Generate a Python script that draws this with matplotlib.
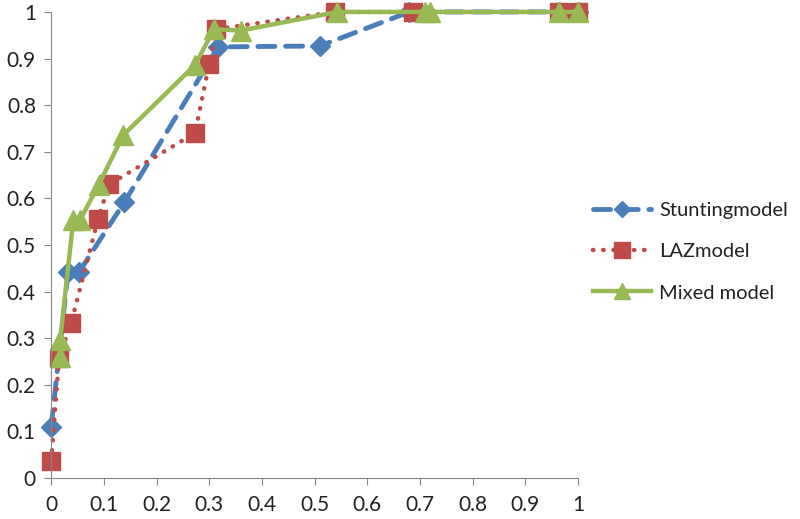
import matplotlib
matplotlib.use("Agg")
import matplotlib.pyplot as plt

stunting_x = [0.0, 0.032, 0.053, 0.139, 0.317, 0.51, 0.68, 0.964, 1.0]
stunting_y = [0.11, 0.442, 0.442, 0.592, 0.925, 0.927, 1.0, 1.0, 1.0]

laz_x = [0.0, 0.015, 0.038, 0.089, 0.11, 0.273, 0.30, 0.313, 0.539, 0.687, 0.964, 1.0]
laz_y = [0.037, 0.258, 0.333, 0.556, 0.63, 0.74, 0.889, 0.963, 1.0, 1.0, 1.0, 1.0]

mixed_x = [0.017, 0.017, 0.042, 0.055, 0.09, 0.137, 0.273, 0.309, 0.36, 0.543, 0.71, 0.72, 0.964, 1.0]
mixed_y = [0.26, 0.296, 0.554, 0.554, 0.629, 0.736, 0.886, 0.963, 0.96, 1.0, 1.0, 1.0, 1.0, 1.0]

ticks = [0, 0.1, 0.2, 0.3, 0.4, 0.5, 0.6, 0.7, 0.8, 0.9, 1]
tick_labels = ["0", "0.1", "0.2", "0.3", "0.4", "0.5", "0.6", "0.7", "0.8", "0.9", "1"]

plt.rcParams['font.family'] = ['Lato', 'DejaVu Sans']

fig = plt.figure(figsize=(8, 5.19), dpi=100)
ax = fig.add_axes([0.064, 0.079, 0.6585, 0.898])

ax.plot(stunting_x, stunting_y, color='#4A7EBB', lw=3.5, dashes=(3.5, 2.2),
        dash_capstyle='round', marker='D', ms=10, label='Stuntingmodel', clip_on=False)
ax.plot(laz_x, laz_y, color='#BE4B48', lw=3.2, linestyle=(0, (0.1, 2.2)),
        dash_capstyle='round', marker='s', ms=13, label='LAZmodel', clip_on=False)
ax.plot(mixed_x, mixed_y, color='#98B954', lw=3.2, marker='^', ms=14,
        label='Mixed model', clip_on=False)

ax.set_xlim(0, 1)
ax.set_ylim(0, 1)
ax.set_xticks(ticks)
ax.set_xticklabels(tick_labels)
ax.set_yticks(ticks)
ax.set_yticklabels(tick_labels)
for s in ['top', 'right']:
    ax.spines[s].set_visible(False)
for s in ['left', 'bottom']:
    ax.spines[s].set_color('#868686')
ax.tick_params(direction='out', length=5, color='#868686', labelsize=15, labelcolor='#222222')
ax.tick_params(axis='x', pad=7)
ax.tick_params(axis='y', pad=6)

leg = fig.legend(loc='center left', bbox_to_anchor=(0.718, 0.515), frameon=False,
                 fontsize=14.5, handlelength=2.9, handletextpad=0.4,
                 labelspacing=1.2, markerscale=0.85)
for t in leg.get_texts():
    t.set_color('#222222')

fig.savefig('out.png', dpi=100)
